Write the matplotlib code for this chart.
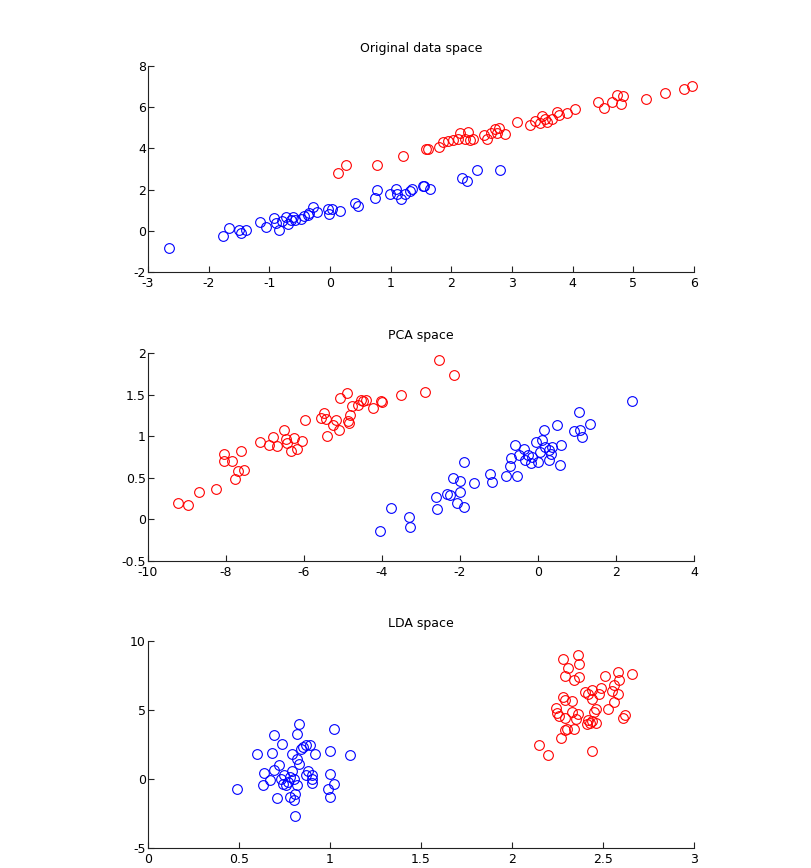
import numpy as np
import matplotlib
matplotlib.use("Agg")
import matplotlib.pyplot as plt
from matplotlib.ticker import FuncFormatter

plt.rcParams['font.family'] = ['DejaVu Sans']
plt.rcParams['axes.unicode_minus'] = False

# Original data space
orig_blue_x = [-2.65, -1.76, -1.66, -1.5, -1.47, -1.39, -1.15, -1.06, -0.93, -0.89,
               -0.84, -0.79, -0.73, -0.69, -0.65, -0.61, -0.57, -0.48, -0.43, -0.37,
               -0.34, -0.28, -0.21, -0.04, -0.01, 0.03, 0.17, 0.41, 0.46, 0.75,
               0.78, 0.99, 1.09, 1.1, 1.17, 1.23, 1.32, 1.35, 1.53, 1.55,
               1.65, 2.18, 2.26, 2.43, 2.81]
orig_blue_y = [-0.84, -0.23, 0.13, 0.02, -0.13, 0.06, 0.42, 0.18, 0.63, 0.39,
               0.02, 0.47, 0.66, 0.31, 0.5, 0.68, 0.5, 0.58, 0.74, 0.77,
               0.87, 1.15, 0.9, 1.06, 0.82, 1.06, 0.94, 1.35, 1.19, 1.58,
               1.97, 1.81, 2.03, 1.79, 1.55, 1.79, 1.94, 2.03, 2.16, 2.19,
               2.03, 2.56, 2.4, 2.97, 2.97]
orig_red_x = [0.13, 0.26, 0.77, 1.2, 1.58, 1.61, 1.8, 1.87, 1.94, 2.03,
              2.11, 2.15, 2.22, 2.28, 2.3, 2.36, 2.54, 2.58, 2.65, 2.72,
              2.79, 2.76, 2.88, 3.08, 3.3, 3.38, 3.46, 3.49, 3.55, 3.57,
              3.66, 3.74, 3.77, 3.91, 4.04, 4.42, 4.51, 4.65, 4.73, 4.79,
              4.83, 5.21, 5.52, 5.83, 5.96]
orig_red_y = [2.79, 3.19, 3.19, 3.61, 3.97, 3.97, 4.05, 4.29, 4.37, 4.4,
              4.48, 4.74, 4.45, 4.81, 4.42, 4.45, 4.65, 4.48, 4.77, 4.94,
              4.97, 4.77, 4.69, 5.29, 5.13, 5.34, 5.23, 5.58, 5.45, 5.26,
              5.42, 5.77, 5.61, 5.74, 5.9, 6.26, 5.98, 6.26, 6.58, 6.15,
              6.55, 6.42, 6.71, 6.87, 7.03]

# PCA space
pca_red_x = [-9.23, -8.97, -8.69, -8.26, -8.04, -8.06, -7.85, -7.61, -7.76, -7.7,
             -7.53, -7.14, -6.91, -6.8, -6.69, -6.5, -6.45, -6.44, -6.33, -6.26,
             -6.17, -6.05, -5.98, -5.57, -5.49, -5.44, -5.42, -5.25, -5.17, -5.1,
             -5.08, -4.91, -4.88, -4.82, -4.85, -4.78, -4.61, -4.54, -4.48, -4.41,
             -4.22, -4.03, -4.0, -3.5, -2.89, -2.55, -2.15]
pca_red_y = [0.2, 0.17, 0.33, 0.36, 0.79, 0.7, 0.7, 0.82, 0.48, 0.58,
             0.59, 0.93, 0.89, 0.99, 0.88, 1.08, 0.97, 0.92, 0.82, 0.98,
             0.85, 0.94, 1.2, 1.22, 1.28, 1.21, 1.0, 1.14, 1.19, 1.07,
             1.46, 1.52, 1.18, 1.25, 1.16, 1.36, 1.38, 1.44, 1.42, 1.43,
             1.34, 1.42, 1.41, 1.5, 1.53, 1.91, 1.74]
pca_blue_x = [-4.05, -3.77, -3.31, -3.28, -2.61, -2.6, -2.33, -2.18, -2.25, -2.07,
              -2.0, -2.0, -1.91, -1.9, -1.64, -1.22, -1.18, -0.81, -0.55, -0.72,
              -0.7, -0.59, -0.48, -0.35, -0.33, -0.25, -0.19, -0.16, -0.06, 0.01,
              0.05, 0.09, 0.15, 0.18, 0.27, 0.29, 0.35, 0.33, 0.48, 0.59,
              0.57, 0.93, 1.06, 1.08, 1.12, 1.34, 2.41]
pca_blue_y = [-0.14, 0.14, 0.03, -0.09, 0.27, 0.12, 0.3, 0.5, 0.29, 0.2,
              0.46, 0.33, 0.15, 0.69, 0.44, 0.55, 0.45, 0.52, 0.52, 0.64,
              0.74, 0.9, 0.77, 0.85, 0.71, 0.77, 0.68, 0.75, 0.93, 0.69,
              0.81, 0.95, 1.08, 0.87, 0.71, 0.83, 0.87, 0.79, 1.14, 0.9,
              0.65, 1.06, 1.29, 1.07, 0.99, 1.15, 1.42]

# LDA space
lda_blue_x = [0.49, 0.6, 0.69, 0.68, 0.735, 0.64, 0.63, 0.67, 0.69, 0.72,
              0.71, 0.73, 0.74, 0.75, 0.76, 0.77, 0.78, 0.78, 0.79, 0.79,
              0.8, 0.81, 0.8, 0.82, 0.81, 0.82, 0.83, 0.82, 0.83, 0.84,
              0.85, 0.87, 0.89, 0.88, 0.87, 0.9, 0.9, 0.92, 0.9, 0.99,
              1.0, 1.0, 1.0, 1.02, 1.02, 1.11]
lda_blue_y = [-0.72, 1.79, 3.16, 1.91, 2.51, 0.43, -0.41, -0.1, 0.63, 1.04,
              -1.35, 0.02, -0.34, 0.27, -0.46, -0.22, -1.3, 0.14, 0.58, 1.84,
              -1.55, -1.06, 0.02, -0.46, -2.68, 3.29, 4.01, 1.47, 1.06, 2.2,
              2.32, 2.49, 2.44, 0.58, 0.27, 0.27, -0.29, 1.79, 0.02, -0.75,
              2.03, 0.39, -1.3, -0.39, 3.65, 1.71]
lda_red_x = [2.28, 2.36, 2.31, 2.37, 2.29, 2.34, 2.37, 2.51, 2.58, 2.66,
             2.59, 2.56, 2.55, 2.58, 2.49, 2.4, 2.42, 2.44, 2.48, 2.44,
             2.28, 2.29, 2.33, 2.56, 2.53, 2.46, 2.45, 2.24, 2.25, 2.26,
             2.29, 2.33, 2.36, 2.35, 2.42, 2.43, 2.44, 2.46, 2.41, 2.34,
             2.3, 2.29, 2.27, 2.62, 2.61, 2.15, 2.2, 2.44]
lda_red_y = [8.72, 8.96, 8.07, 8.36, 7.44, 7.2, 7.39, 7.46, 7.75, 7.63,
             7.2, 6.79, 6.38, 6.18, 6.62, 6.3, 6.18, 6.43, 6.14, 5.82,
             5.94, 5.7, 5.65, 5.58, 5.1, 5.1, 4.86, 5.17, 4.78, 4.54,
             4.44, 4.86, 4.73, 4.37, 4.25, 4.06, 4.2, 4.06, 3.96, 3.65,
             3.65, 3.53, 3.0, 4.61, 4.44, 2.44, 1.71, 2.03]

panels = [
    ("Original data space", orig_blue_x, orig_blue_y, orig_red_x, orig_red_y,
     (-3, 6), (-2, 8), np.arange(-3, 7, 1), np.arange(-2, 9, 2)),
    ("PCA space", pca_blue_x, pca_blue_y, pca_red_x, pca_red_y,
     (-10, 4), (-0.5, 2), np.arange(-10, 5, 2), np.arange(-0.5, 2.1, 0.5)),
    ("LDA space", lda_blue_x, lda_blue_y, lda_red_x, lda_red_y,
     (0, 3), (-5, 10), np.arange(0, 3.1, 0.5), np.arange(-5, 11, 5)),
]

W, H = 812, 868
boxes = [(148, 66, 694, 272), (148, 353, 694, 561), (148, 641, 694, 848)]

fig = plt.figure(figsize=(W / 100, H / 100), dpi=100)
fmt = FuncFormatter(lambda v, p: "%g" % round(v, 3))

for (title, bx, by, rx, ry, xl, yl, xt, yt), (l, t, r, b) in zip(panels, boxes):
    ax = fig.add_axes([l / W, 1 - b / H, (r - l) / W, (b - t) / H])
    ax.plot(bx, by, 'o', mfc='none', mec=(0, 0, 1), ms=7, mew=0.8, clip_on=False)
    ax.plot(rx, ry, 'o', mfc='none', mec=(1, 0, 0), ms=7, mew=0.8, clip_on=False)
    ax.set_xlim(xl)
    ax.set_ylim(yl)
    ax.set_xticks(xt)
    ax.set_yticks(yt)
    ax.xaxis.set_major_formatter(fmt)
    ax.yaxis.set_major_formatter(fmt)
    for s in ['top', 'right']:
        ax.spines[s].set_visible(False)
    for s in ['left', 'bottom']:
        ax.spines[s].set_linewidth(0.8)
        ax.spines[s].set_color('#222222')
    ax.tick_params(direction='in', length=4, width=0.8, labelsize=9,
                   colors='#222222', labelcolor='black')
    ax.tick_params(axis='x', pad=3.5)
    ax.tick_params(axis='y', pad=1.5)
    ax.set_title(title, fontsize=9, pad=10)

fig.savefig("out.png", dpi=100)
